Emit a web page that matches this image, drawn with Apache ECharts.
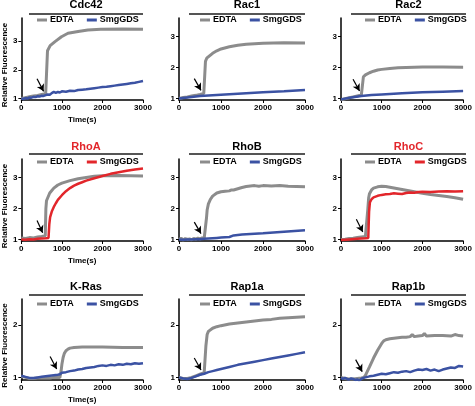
<!DOCTYPE html>
<html><head><meta charset="utf-8">
<script src="https://cdn.jsdelivr.net/npm/echarts@6/dist/echarts.min.js"></script>
<style>html,body{margin:0;padding:0;background:#fff}#c{width:475px;height:406px}</style>
</head><body><div id="c"></div>
<script>
// ---- data ----
const panelTitles = ['Cdc42','Rac1','Rac2','RhoA','RhoB','RhoC','K-Ras','Rap1a','Rap1b'];
const redTitles = ['RhoA','RhoC'];
const xTicks = [0,1000,2000,3000];
const yTicksTop = [1,2,3];
const yTicksBottom = [1,2];
const seriesNames = ['EDTA','SmgGDS'];

const cdc42_edta = [[0,1.0],[100,1.03],[200,1.06],[300,1.09],[400,1.11],[500,1.14],[600,1.17],[635,1.19],[645,2.66],[710,2.84],[830,2.98],[990,3.15],[1150,3.27],[1400,3.33],[1640,3.38],[1960,3.41],[2500,3.42],[3000,3.41]];
const cdc42_smg = [[0,1.0],[50,0.98],[100,1.02],[150,1.0],[200,1.04],[250,1.03],[300,1.06],[350,1.05],[400,1.08],[450,1.07],[500,1.1],[550,1.09],[600,1.12],[650,1.14],[700,1.13],[750,1.19],[800,1.23],[850,1.2],[900,1.23],[950,1.21],[1000,1.25],[1100,1.24],[1200,1.27],[1300,1.26],[1400,1.3],[1500,1.31],[1600,1.32],[1700,1.34],[1800,1.36],[1900,1.38],[2000,1.4],[2100,1.41],[2200,1.43],[2300,1.45],[2400,1.47],[2500,1.49],[2600,1.51],[2700,1.53],[2800,1.55],[2900,1.58],[3000,1.61]];
const rac1_edta = [[0,1.0],[100,1.03],[200,1.05],[300,1.08],[400,1.1],[500,1.13],[590,1.16],[615,1.17],[630,2.2],[660,2.3],[700,2.36],[800,2.46],[900,2.54],[1000,2.6],[1200,2.67],[1400,2.72],[1600,2.75],[1800,2.77],[2000,2.78],[2500,2.8],[3000,2.79]];
const rac1_smg = [[0,1.0],[500,1.08],[1000,1.12],[1500,1.16],[2000,1.2],[2500,1.23],[3000,1.27]];
const rac2_edta = [[0,0.96],[100,0.99],[200,1.02],[300,1.05],[400,1.08],[500,1.11],[540,1.13],[550,1.7],[600,1.76],[700,1.83],[800,1.88],[900,1.92],[1000,1.94],[1200,1.97],[1400,1.99],[1600,2.0],[2000,2.02],[2500,2.02],[3000,2.01]];
const rac2_smg = [[0,0.97],[250,1.03],[500,1.08],[750,1.11],[1000,1.13],[1500,1.17],[2000,1.2],[2500,1.22],[3000,1.24]];
const rhoa_edta = [[0,1.05],[100,1.03],[200,1.06],[300,1.05],[400,1.08],[500,1.1],[590,1.12],[605,2.0],[620,2.25],[700,2.5],[800,2.66],[900,2.76],[1000,2.82],[1100,2.86],[1200,2.9],[1400,2.96],[1600,3.0],[1800,3.04],[2000,3.06],[2400,3.07],[2700,3.06],[3000,3.05]];
const rhoa_smg = [[0,1.0],[100,0.99],[200,1.01],[300,1.0],[400,1.02],[500,1.03],[600,1.04],[670,1.05],[690,1.5],[710,1.72],[750,1.9],[800,2.05],[850,2.17],[900,2.28],[1000,2.43],[1100,2.56],[1200,2.66],[1300,2.74],[1400,2.8],[1500,2.85],[1600,2.9],[1800,2.98],[2000,3.05],[2200,3.12],[2400,3.17],[2600,3.22],[2800,3.26],[3000,3.29]];
const rhob_edta = [[0,1.0],[50,1.04],[100,0.98],[150,1.03],[200,1.0],[250,1.02],[300,0.99],[350,1.03],[400,1.01],[450,1.04],[500,1.02],[550,1.05],[600,1.04],[640,1.06],[655,1.7],[670,1.95],[700,2.15],[750,2.3],[800,2.4],[900,2.5],[1000,2.54],[1100,2.56],[1200,2.57],[1250,2.6],[1300,2.6],[1400,2.64],[1500,2.68],[1600,2.71],[1700,2.73],[1800,2.74],[1900,2.72],[2000,2.74],[2200,2.73],[2400,2.74],[2600,2.72],[2800,2.71],[3000,2.7]];
const rhob_smg = [[0,1.0],[100,0.99],[200,1.0],[300,1.0],[400,1.01],[500,1.01],[600,1.02],[700,1.03],[800,1.04],[900,1.05],[1000,1.06],[1100,1.07],[1200,1.08],[1230,1.12],[1300,1.13],[1500,1.16],[2000,1.2],[2500,1.25],[3000,1.3]];
const rhoc_edta = [[0,1.0],[100,1.01],[200,1.03],[300,1.04],[400,1.06],[500,1.08],[600,1.1],[640,1.11],[660,2.0],[680,2.35],[700,2.48],[750,2.6],[800,2.66],[900,2.7],[1000,2.72],[1100,2.71],[1200,2.69],[1400,2.64],[1600,2.59],[1800,2.54],[2000,2.49],[2200,2.45],[2400,2.42],[2600,2.39],[2800,2.35],[3000,2.3]];
const rhoc_smg = [[0,0.98],[200,1.0],[400,1.02],[600,1.04],[670,1.05],[690,1.9],[710,2.2],[750,2.3],[800,2.36],[900,2.41],[1000,2.44],[1100,2.46],[1200,2.47],[1300,2.49],[1400,2.48],[1500,2.47],[1600,2.5],[1700,2.52],[1800,2.51],[1900,2.53],[2000,2.54],[2200,2.53],[2400,2.55],[2600,2.56],[2800,2.55],[3000,2.56]];
const kras_edta = [[0,1.02],[100,1.0],[200,0.98],[300,0.98],[400,0.99],[500,0.99],[600,0.99],[700,0.99],[800,1.0],[900,1.0],[950,1.0],[980,1.12],[1000,1.25],[1030,1.38],[1060,1.46],[1100,1.51],[1150,1.54],[1200,1.56],[1300,1.57],[1500,1.58],[2000,1.58],[2500,1.57],[3000,1.57]];
const kras_smg = [[0,1.03],[100,1.01],[200,0.99],[300,0.99],[400,1.0],[500,1.01],[600,1.02],[700,1.03],[800,1.04],[900,1.05],[950,1.06],[1000,1.09],[1100,1.1],[1200,1.12],[1300,1.13],[1400,1.15],[1500,1.16],[1600,1.18],[1700,1.19],[1800,1.2],[1900,1.22],[2000,1.23],[2100,1.22],[2200,1.24],[2300,1.23],[2400,1.25],[2500,1.24],[2600,1.26],[2700,1.25],[2800,1.27],[2900,1.26],[3000,1.27]];
const rap1a_edta = [[0,1.0],[100,0.98],[200,0.98],[300,1.0],[400,1.03],[500,1.06],[600,1.09],[620,1.1],[640,1.6],[670,1.82],[700,1.88],[800,1.94],[900,1.97],[1000,1.99],[1200,2.02],[1400,2.04],[1600,2.06],[1800,2.08],[2000,2.1],[2200,2.11],[2400,2.13],[2600,2.14],[2800,2.15],[3000,2.16]];
const rap1a_smg = [[0,1.0],[100,0.98],[200,0.97],[300,0.99],[400,1.02],[500,1.05],[600,1.07],[700,1.1],[800,1.12],[900,1.14],[1000,1.16],[1200,1.2],[1400,1.24],[1600,1.27],[1800,1.3],[2000,1.33],[2200,1.36],[2400,1.39],[2600,1.42],[2800,1.45],[3000,1.48]];
const rap1b_edta = [[0,1.0],[100,0.98],[200,0.97],[300,0.97],[400,0.98],[500,0.99],[560,1.0],[600,1.04],[700,1.2],[800,1.37],[900,1.52],[1000,1.65],[1050,1.7],[1100,1.72],[1200,1.74],[1300,1.75],[1400,1.76],[1500,1.77],[1600,1.77],[1700,1.78],[1750,1.82],[1800,1.78],[1900,1.79],[2000,1.8],[2050,1.84],[2100,1.79],[2300,1.8],[2500,1.8],[2700,1.79],[2800,1.82],[2900,1.8],[3000,1.79]];
const rap1b_smg = [[0,0.99],[50,0.97],[100,0.99],[150,0.97],[200,0.96],[250,0.98],[300,0.97],[350,0.95],[400,0.96],[450,0.94],[500,0.97],[550,0.99],[600,1.0],[700,1.02],[800,1.03],[900,1.05],[1000,1.07],[1100,1.06],[1200,1.08],[1300,1.1],[1400,1.09],[1500,1.11],[1600,1.12],[1700,1.1],[1800,1.13],[1900,1.15],[2000,1.14],[2100,1.16],[2200,1.13],[2300,1.15],[2400,1.12],[2500,1.15],[2600,1.17],[2700,1.19],[2800,1.18],[2900,1.22],[3000,1.21]];

// arrow annotations: [startT, startV, endT, endV]
const arrows = [[387,1.69,549,1.25],[364,1.64,524,1.26],[296,1.62,456,1.24],[387,1.61,525,1.22],[364,1.56,524,1.19],[377,1.65,535,1.24],[709,1.40,871,1.16],[364,1.37,524,1.14],[360,1.34,521,1.11]];
const yMins = [0.95,0.95,0.95,0.95,0.95,0.95,0.95,0.95,0.95];
const yMaxs = [3.8,3.6,3.6,3.6,3.6,3.6,2.5,2.5,2.5];

const edtaData = [cdc42_edta,rac1_edta,rac2_edta,rhoa_edta,rhob_edta,rhoc_edta,kras_edta,rap1a_edta,rap1b_edta];
const smgData = [cdc42_smg,rac1_smg,rac2_smg,rhoa_smg,rhob_smg,rhoc_smg,kras_smg,rap1a_smg,rap1b_smg];

// ---- layout ----
const colLeft = [19,179,341], colWidth = [124,126,125];
const rowTop = [18,159,299], rowHeight = [82,82,81];
const titleY = [5,146.5,287], ruleY = [14,154,295], legendY = [20,162,304];
const legendLeft = [37,200,365];
const FONT = '"Liberation Sans", Arial, sans-serif';
const GRAY = '#8c8c8c', BLUE = '#3b52a3', RED = '#e2262b';

const grid=[], xAxis=[], yAxis=[], series=[], legend=[], graphic=[];
panelTitles.forEach((title,i)=>{
  const r = Math.floor(i/3), c = i%3;
  const L = colLeft[c], W = colWidth[c], T = rowTop[r], H = rowHeight[r];
  grid.push({left:L, top:T, width:W, height:H});
  const isRed = redTitles.includes(title);
  xAxis.push({
    gridIndex:i, type:'value', min:0, max:3000, interval:1000,
    name: c===0 ? 'Time(s)' : '', nameLocation:'middle', nameGap:16,
    nameTextStyle:{fontSize:8, fontWeight:'bold', color:'#000', fontFamily:FONT},
    axisLine:{show:true, lineStyle:{color:'#000', width:1.5}},
    axisTick:{show:true, length:3, lineStyle:{color:'#000', width:1}},
    axisLabel:{fontSize:8, fontWeight:'bold', color:'#000', margin:4, fontFamily:FONT,
      customValues: xTicks, formatter: v => String(v)},
    splitLine:{show:false}
  });
  const yt = r===2 ? yTicksBottom : yTicksTop;
  yAxis.push({
    gridIndex:i, type:'value', min:yMins[i], max:yMaxs[i],
    name: c===0 ? 'Relative Fluorescence' : '', nameLocation:'middle', nameGap:10,
    nameTextStyle:{fontSize:8, fontWeight:'bold', color:'#000', fontFamily:FONT, padding:[0,12,0,0]},
    axisLine:{show:true, lineStyle:{color:'#000', width:1.5}},
    axisTick:{show:true, length:3, customValues: yt, lineStyle:{color:'#000', width:1}},
    axisLabel:{fontSize:8, fontWeight:'bold', color:'#000', margin:4, fontFamily:FONT, customValues: yt, formatter: v => String(v)},
    splitLine:{show:false}
  });
  const a = arrows[i];
  series.push({
    name: title+'|'+seriesNames[0], type:'line', xAxisIndex:i, yAxisIndex:i,
    data: edtaData[i], showSymbol:false, color:GRAY, lineStyle:{color:GRAY, width:3}, itemStyle:{color:GRAY},
    markLine:{silent:true, symbol:['none','arrow'], symbolSize:[6,7], label:{show:false},
      lineStyle:{color:'#000', width:1.2, type:'solid'},
      data:[[{coord:[a[0],a[1]]},{coord:[a[2],a[3]]}]]}
  });
  const sc = isRed ? RED : BLUE;
  series.push({
    name: title+'|'+seriesNames[1], type:'line', xAxisIndex:i, yAxisIndex:i,
    data: smgData[i], showSymbol:false, color:sc, lineStyle:{color:sc, width:2.5}, itemStyle:{color:sc}
  });
  legend.push({
    left: legendLeft[c], top: legendY[r]-5, padding:0, itemGap:13,
    icon:'rect', itemWidth:10, itemHeight:3,
    data:[title+'|'+seriesNames[0], title+'|'+seriesNames[1]],
    formatter: n => n.split('|')[1],
    textStyle:{fontSize:9, fontWeight:'bold', color:'#000', fontFamily:FONT, lineHeight:10, padding:[0,0,0,-2]},
    selectedMode:false
  });
  const ruleL = L+10, ruleR = L+W;
  graphic.push({type:'line', shape:{x1:ruleL, y1:ruleY[r], x2:ruleR, y2:ruleY[r]}, style:{stroke:'#555', lineWidth:2}, silent:true});
  graphic.push({type:'text', x:(ruleL+ruleR)/2, y:titleY[r],
    style:{text:title, fill: isRed ? RED : '#000', font:'bold 11px '+FONT, textAlign:'center', textVerticalAlign:'middle'}, silent:true});
});

const chart = echarts.init(document.getElementById('c'), null, {renderer:'canvas'});
chart.setOption({
  animation:false,
  textStyle:{fontFamily:FONT},
  grid, xAxis, yAxis, series, legend, graphic
});
</script></body></html>
